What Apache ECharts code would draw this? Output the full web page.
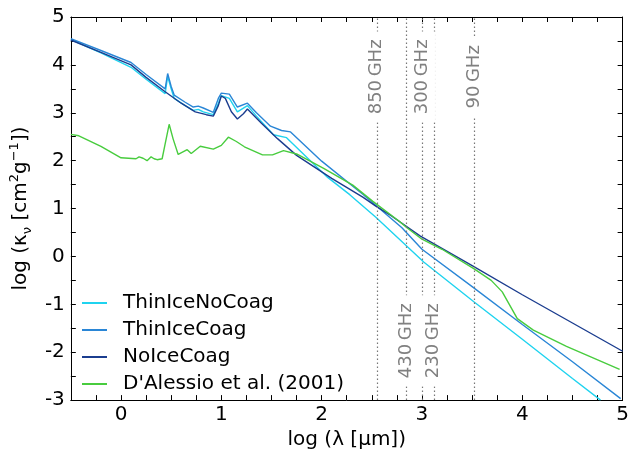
<!DOCTYPE html>
<html>
<head>
<meta charset="utf-8">
<script src="https://cdn.jsdelivr.net/npm/echarts@6/dist/echarts.min.js"></script>
<style>
  html, body { margin: 0; padding: 0; background: #fff; }
  #chart { width: 632px; height: 455px; }
</style>
</head>
<body>
<div id="chart"></div>
<script>
// log(lambda [um]) , log(kappa)
const thinIceNoCoag = [[-0.5,4.53],[-0.2,4.25],[0.1,3.95],[0.25,3.7],[0.44,3.4],[0.465,3.76],[0.5,3.5],[0.53,3.3],[0.64,3.15],[0.72,3.05],[0.77,3.07],[0.82,3.02],[0.92,2.96],[0.97,3.2],[1.0,3.36],[1.08,3.3],[1.16,3.02],[1.26,3.15],[1.35,2.93],[1.52,2.54],[1.65,2.48],[2.06,1.65],[2.28,1.29],[2.54,0.82],[3.02,-0.12],[3.52,-0.95],[4.0,-1.73],[4.5,-2.55],[4.78,-3.0]]
const thinIceCoag = [[-0.5,4.55],[-0.2,4.3],[0.1,4.05],[0.25,3.8],[0.44,3.5],[0.465,3.82],[0.5,3.55],[0.53,3.37],[0.64,3.22],[0.72,3.12],[0.77,3.14],[0.82,3.1],[0.92,3.01],[0.97,3.3],[1.0,3.41],[1.08,3.39],[1.16,3.12],[1.26,3.2],[1.35,3.0],[1.49,2.72],[1.6,2.63],[1.69,2.6],[2.0,1.99],[2.41,1.3],[2.8,0.6],[3.0,0.15],[3.5,-0.63],[4.0,-1.42],[4.5,-2.2],[4.98,-2.97]]
const noIceCoag = [[-0.5,4.52],[-0.2,4.26],[0.1,4.0],[0.25,3.74],[0.44,3.44],[0.6,3.2],[0.74,3.02],[0.85,2.96],[0.92,2.93],[0.97,3.15],[1.0,3.35],[1.04,3.3],[1.1,3.02],[1.16,2.87],[1.22,2.98],[1.26,3.08],[1.4,2.78],[1.56,2.46],[1.75,2.11],[2.1,1.63],[2.41,1.24],[2.54,1.05],[2.7,0.84],[2.98,0.43],[3.5,-0.19],[4.0,-0.8],[4.5,-1.39],[5.0,-1.98]]
const dAlessio = [[-0.5,2.55],[-0.42,2.52],[-0.2,2.3],[0.0,2.06],[0.15,2.04],[0.18,2.08],[0.22,2.05],[0.26,2.0],[0.3,2.08],[0.33,2.04],[0.36,2.02],[0.41,2.04],[0.44,2.35],[0.48,2.76],[0.52,2.45],[0.57,2.13],[0.66,2.23],[0.7,2.15],[0.79,2.3],[0.92,2.24],[1.0,2.32],[1.07,2.49],[1.15,2.4],[1.23,2.29],[1.41,2.12],[1.51,2.12],[1.62,2.21],[1.75,2.14],[2.02,1.84],[2.31,1.49],[2.51,1.15],[2.77,0.74],[2.85,0.6],[3.0,0.36],[3.2,0.15],[3.52,-0.26],[3.69,-0.5],[3.8,-0.74],[3.95,-1.3],[4.11,-1.54],[4.44,-1.88],[4.97,-2.36]]

const seriesNames = ['ThinIceNoCoag', 'ThinIceCoag', 'NoIceCoag', "D'Alessio et al. (2001)"]
const seriesColors = ['#1fd3ef', '#2a86d6', '#1b3d8f', '#48cc3e']

// frequencies marked as vertical lines, at log(c/nu) in um
const freqLabels = ['850\u2009GHz', '430\u2009GHz', '300\u2009GHz', '230\u2009GHz', '90\u2009GHz']
const freqLogLambda = [2.548, 2.843, 3.0, 3.115, 3.523]
const freqLabelAtTop = [true, false, true, false, true]

const font = 'DejaVu Sans'
const chart = echarts.init(document.getElementById('chart'))

const xBase = {
  type: 'value', min: -0.5, max: 5, interval: 0.25,
  axisLine: { show: true, onZero: false, lineStyle: { color: '#000', width: 1 } },
  axisTick: { inside: true, length: 5, lineStyle: { color: '#000' } },
  splitLine: { show: false }
}
const yBase = {
  type: 'value', min: -3, max: 5, interval: 0.5,
  axisLine: { show: true, onZero: false, lineStyle: { color: '#000', width: 1 } },
  axisTick: { inside: true, length: 5, lineStyle: { color: '#000' } },
  splitLine: { show: false }
}
const intLabel = v => (Number.isInteger(v) ? String(v) : '')

const dataSets = [thinIceNoCoag, thinIceCoag, noIceCoag, dAlessio]
const series = dataSets.map((d, i) => ({
  name: seriesNames[i],
  type: 'line',
  data: d,
  symbol: 'none',
  z: 3,
  lineStyle: { color: seriesColors[i], width: 1.4 },
  itemStyle: { color: seriesColors[i] }
}))
series.push({
  type: 'line',
  data: [],
  silent: true,
  markLine: {
    symbol: 'none',
    silent: true,
    label: { show: false },
    lineStyle: { type: [1.5, 2.5], color: '#777', width: 1.2 },
    data: freqLogLambda.map(x => ({ xAxis: x }))
  }
})

chart.setOption({
  animation: false,
  textStyle: { fontFamily: font },
  grid: { left: 63, right: 8, top: 17, bottom: 50 },
  xAxis: [
    Object.assign({}, xBase, {
      position: 'bottom',
      name: 'log (λ [μm])',
      nameLocation: 'middle',
      nameGap: 25,
      nameTextStyle: { fontSize: 20, color: '#000', fontFamily: font },
      axisLabel: { formatter: intLabel, fontSize: 20, color: '#000', margin: 5, fontFamily: font }
    }),
    Object.assign({}, xBase, { position: 'top', axisLabel: { show: false } })
  ],
  yAxis: [
    Object.assign({}, yBase, {
      position: 'left',
      name: '{a|log (κ}{s|ν}{a| [cm}{u|2}{a|g}{u|−1}{a|])}',
      nameLocation: 'middle',
      nameGap: 30,
      nameRotate: 90,
      nameTextStyle: {
        color: '#000',
        rich: {
          a: { fontSize: 20, fontFamily: font, color: '#000', lineHeight: 26 },
          s: { fontSize: 13, fontFamily: font, color: '#000', verticalAlign: 'bottom', lineHeight: 26 },
          u: { fontSize: 13, fontFamily: font, color: '#000', verticalAlign: 'top', lineHeight: 26 }
        }
      },
      axisLabel: { formatter: intLabel, fontSize: 20, color: '#000', margin: 6, fontFamily: font }
    }),
    Object.assign({}, yBase, { position: 'right', axisLabel: { show: false } })
  ],
  legend: {
    orient: 'vertical',
    left: 77,
    top: 288,
    icon: 'rect',
    itemWidth: 25,
    itemHeight: 2,
    itemGap: 7,
    data: seriesNames,
    textStyle: { fontSize: 20, color: '#000', fontFamily: font, lineHeight: 20, padding: [0, 0, 0, 11] }
  },
  series: series
})

// frequency labels, placed through the x axis scale
const yTopLabel = chart.convertToPixel({ yAxisIndex: 0 }, 3.75)
const yBottomLabel = chart.convertToPixel({ yAxisIndex: 0 }, -1.76)
chart.setOption({
  graphic: freqLogLambda.map((x, i) => ({
    type: 'text',
    z: 50,
    x: chart.convertToPixel({ xAxisIndex: 0 }, x),
    y: freqLabelAtTop[i] ? yTopLabel : yBottomLabel,
    rotation: Math.PI / 2,
    style: {
      text: freqLabels[i],
      fontSize: 18,
      fontFamily: font,
      fill: '#808080',
      align: 'center',
      verticalAlign: 'middle',
      backgroundColor: '#fff',
      padding: [4, 8]
    }
  }))
})
</script>
</body>
</html>
